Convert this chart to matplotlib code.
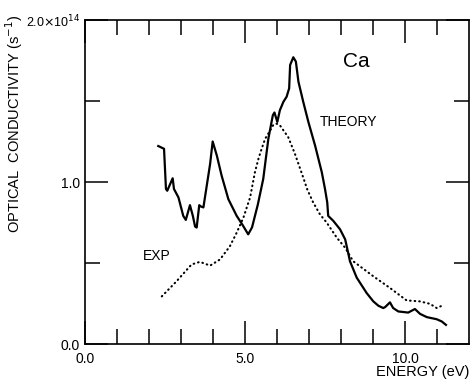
import matplotlib
matplotlib.use("Agg")
import matplotlib.pyplot as plt
from matplotlib.ticker import FixedLocator, FixedFormatter

plt.rcParams['font.family'] = ['Liberation Sans', 'DejaVu Sans']

theory_e = [2.29, 2.47, 2.53, 2.57, 2.74, 2.78, 2.92, 3.07, 3.15, 3.28, 3.37, 3.44, 3.49,
            3.57, 3.62, 3.70, 3.91, 3.99, 4.12, 4.27, 4.48, 4.74, 4.93, 5.10, 5.22, 5.40,
            5.57, 5.73, 5.87, 5.92, 6.01, 6.09, 6.20, 6.30, 6.38, 6.41, 6.51, 6.59, 6.67,
            6.82, 6.98, 7.19, 7.40, 7.50, 7.57, 7.60, 7.76, 7.97, 8.13, 8.20, 8.28, 8.49,
            8.80, 9.01, 9.17, 9.32, 9.38, 9.53, 9.63, 9.79, 10.10, 10.31, 10.47, 10.68,
            10.99, 11.15, 11.28]
theory_s = [1.222, 1.205, 0.957, 0.946, 1.023, 0.957, 0.905, 0.791, 0.766, 0.857, 0.791,
            0.725, 0.719, 0.857, 0.849, 0.843, 1.112, 1.250, 1.163, 1.039, 0.894, 0.791,
            0.733, 0.677, 0.720, 0.860, 1.019, 1.267, 1.412, 1.429, 1.371, 1.443, 1.495,
            1.526, 1.578, 1.722, 1.770, 1.743, 1.619, 1.495, 1.371, 1.225, 1.060, 0.957,
            0.874, 0.791, 0.760, 0.708, 0.646, 0.584, 0.511, 0.410, 0.315, 0.263, 0.236,
            0.222, 0.228, 0.257, 0.222, 0.201, 0.194, 0.216, 0.186, 0.166, 0.153, 0.139,
            0.118]

exp_e = [2.40, 2.86, 3.33, 3.59, 3.91, 4.22, 4.53, 4.74, 4.95, 5.16, 5.31, 5.42, 5.52,
         5.63, 5.76, 5.89, 5.99, 6.09, 6.35, 6.56, 6.77, 6.95, 7.13, 7.34, 7.55, 7.87,
         8.13, 8.38, 8.59, 9.01, 9.53, 10.05, 10.47, 10.78, 10.99, 11.15]
exp_s = [0.294, 0.387, 0.491, 0.507, 0.484, 0.522, 0.604, 0.687, 0.780, 0.905, 1.060,
         1.143, 1.205, 1.267, 1.309, 1.354, 1.360, 1.350, 1.277, 1.174, 1.056, 0.952,
         0.874, 0.801, 0.750, 0.656, 0.594, 0.511, 0.480, 0.418, 0.346, 0.269, 0.263,
         0.248, 0.222, 0.236]

x_major = [0.0, 5.0, 10.0]
x_major_labels = ["0.0", "5.0", "10.0"]
x_minor = [1, 2, 3, 4, 6, 7, 8, 9, 11]
y_major = [0.0, 1.0, 2.0]
y_major_labels = ["0.0", "1.0", r"2.0$\times$10$^{14}$"]
y_minor = [0.5, 1.5]

fig = plt.figure(figsize=(4.7, 3.81), dpi=100)
ax = fig.add_axes([85/470, 37/381, 384/470, 324/381])

ax.plot(theory_e, theory_s, color='black', lw=1.6, solid_joinstyle='round')
ax.plot(exp_e, exp_s, color='black', lw=1.5, linestyle=(0, (0.3, 1.9)),
        dash_capstyle='round')

ax.set_xlim(0, 12)
ax.set_ylim(0, 2.0)

ax.xaxis.set_major_locator(FixedLocator(x_major))
ax.xaxis.set_major_formatter(FixedFormatter(x_major_labels))
ax.xaxis.set_minor_locator(FixedLocator(x_minor))
ax.yaxis.set_major_locator(FixedLocator(y_major))
ax.yaxis.set_major_formatter(FixedFormatter(y_major_labels))
ax.yaxis.set_minor_locator(FixedLocator(y_minor))

ax.tick_params(which='both', direction='in', top=True, right=True, width=1.1,
               labelsize=10)
ax.tick_params(which='major', length=16.5)
ax.tick_params(which='minor', length=11)
ax.tick_params(axis='x', which='major', pad=6)
ax.tick_params(axis='y', which='major', pad=3.5)
ax.get_yticklabels()[2].set_fontsize(9)
for s in ax.spines.values():
    s.set_linewidth(1.2)

ax.text(8.49, 1.745, "Ca", fontsize=15, ha='center', va='center')
ax.text(7.35, 1.37, "THEORY", fontsize=10, ha='left', va='center')
ax.text(1.8, 0.545, "EXP", fontsize=10, ha='left', va='center')

fig.text(469/470, 2/381, "ENERGY (eV)", fontsize=10.5, ha='right', va='bottom')
fig.text(14/470, 1 - 124/381, r"OPTICAL  CONDUCTIVITY (s$^{-1}$)", fontsize=10.5,
         rotation=90, ha='center', va='center')

fig.savefig("out.png", dpi=100)
